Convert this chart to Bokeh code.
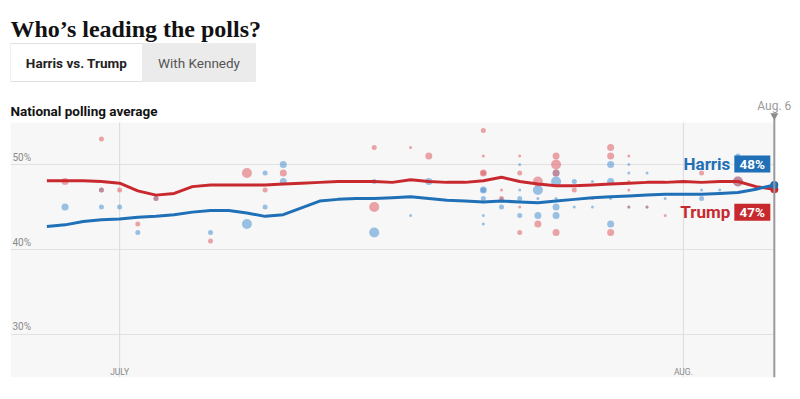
from datetime import timedelta
import pandas as pd
from bokeh.plotting import figure
from bokeh.models import Range1d
from bokeh.layouts import column
from bokeh.embed import file_html
from bokeh.resources import INLINE
from bokeh.core.properties import value

# ---------------- data ----------------
title_text = "Who\u2019s leading the polls?"
tab_labels = ["Harris vs. Trump", "With Kennedy"]
subtitle_text = "National polling average"

avg_dates = pd.date_range("2024-06-27", "2024-08-06", freq="D")
harris_avg = [42.7, 42.9, 43.3, 43.5, 43.6, 43.8, 43.9, 44.1, 44.4, 44.6,
              44.6, 44.3, 43.9, 44.1, 44.9, 45.7, 45.9, 46.0, 46.0, 46.1,
              46.2, 46.0, 45.8, 45.7, 45.6, 45.7, 45.6, 45.5, 45.7, 45.9,
              46.1, 46.2, 46.3, 46.4, 46.5, 46.5, 46.5, 46.6, 46.7, 47.1,
              47.6]
trump_avg = [48.1, 48.1, 48.1, 48.0, 47.8, 46.9, 46.4, 46.6, 47.4, 47.6,
             47.6, 47.6, 47.6, 47.7, 47.8, 47.9, 48.0, 48.0, 48.0, 47.9,
             48.2, 48.0, 47.9, 47.9, 48.1, 48.5, 48.0, 47.7, 47.5, 47.5,
             47.6, 47.7, 47.8, 47.9, 47.9, 48.0, 47.9, 48.0, 48.0, 47.4,
             47.1]

harris_poll_dates = ["06-28", "06-30", "06-30", "07-01", "07-02", "07-03", "07-06", "07-08",
                     "07-09", "07-09", "07-10", "07-10", "07-15", "07-15", "07-17", "07-18",
                     "07-21", "07-21", "07-21", "07-21", "07-21", "07-22", "07-22", "07-23",
                     "07-23", "07-23", "07-23", "07-24", "07-24", "07-24", "07-25", "07-25",
                     "07-25", "07-25", "07-25", "07-26", "07-26", "07-27", "07-27", "07-28",
                     "07-28", "07-28", "07-28", "07-29", "07-29", "07-29", "07-30", "07-30",
                     "07-31", "08-02", "08-02", "08-03", "08-04", "08-04"]
harris_poll_values = [45, 47, 45, 45, 42, 46, 42, 43,
                      49, 45, 50, 48, 48, 42, 44, 48,
                      47, 47, 46, 44, 43, 46, 45, 50,
                      47, 46, 44, 47, 46, 44, 49, 48,
                      46, 45, 44, 48, 45, 48, 45, 50,
                      48, 46, 43, 50, 49, 45, 49, 45,
                      46, 47, 46, 47, 51, 48]
harris_poll_weights = [3, 2, 2, 2, 2, 2, 2, 4,
                       2, 2, 3, 3, 2, 4, 1, 3,
                       3, 2, 2, 1, 1, 1, 2, 1,
                       1, 2, 2, 4, 1, 3, 3, 4,
                       1, 3, 3, 2, 1, 1, 1, 3,
                       3, 1, 3, 1, 1, 1, 1, 1,
                       1, 1, 2, 1, 2, 4]

trump_poll_dates = ["06-28", "06-30", "06-30", "07-01", "07-02", "07-03", "07-06", "07-08",
                    "07-09", "07-10", "07-15", "07-15", "07-17", "07-18", "07-21", "07-21",
                    "07-21", "07-21", "07-22", "07-22", "07-23", "07-23", "07-23", "07-23",
                    "07-24", "07-24", "07-25", "07-25", "07-25", "07-25", "07-26", "07-27",
                    "07-28", "07-28", "07-28", "07-29", "07-29", "07-29", "07-29", "07-30",
                    "07-31", "08-02", "08-04", "08-04"]
trump_poll_values = [48, 53, 47, 47, 43, 46, 41, 49,
                     47, 49, 52, 45, 52, 51, 54, 51,
                     49, 49, 47, 46, 51, 49, 45, 42,
                     48, 43, 51, 50, 49, 42, 47, 46,
                     52, 51, 42, 51, 48, 47, 45, 45,
                     44, 49, 48, 45]
trump_poll_weights = [3, 2, 2, 2, 2, 2, 2, 4,
                      2, 3, 2, 4, 1, 3, 2, 1,
                      3, 2, 1, 2, 1, 2, 1, 2,
                      4, 3, 3, 4, 3, 3, 2, 1,
                      3, 3, 3, 1, 1, 1, 1, 1,
                      1, 2, 4, 2]

y_ticks = [30, 40, 50]
y_tick_labels = ["30%", "40%", "50%"]
x_ticks = ["2024-07-01", "2024-08-01"]
x_tick_labels = ["JULY", "AUG."]
latest_date = "2024-08-06"
latest_label = "Aug. 6"
candidates = ["Harris", "Trump"]

# ---------------- style ----------------
HARRIS = "#1f70b6"
TRUMP = "#c8292f"
HARRIS_DOT = "#4d91d1"
TRUMP_DOT = "#df5f64"
weight_px = {1: 3, 2: 5, 3: 7, 4: 10}
W = 800
TOP_H = 94
BL, BR = 10, 8

# ---------------- header figure ----------------
top = figure(width=W, height=TOP_H, x_range=Range1d(BL, W - BR), y_range=Range1d(TOP_H, 0),
             output_backend="svg", toolbar_location=None,
             min_border_left=BL, min_border_right=BR, min_border_top=0, min_border_bottom=0,
             x_axis_location=None, y_axis_location=None)
top.outline_line_color = None
top.grid.visible = False
top.text(x=[10], y=[28], text=[title_text], text_font=value("Liberation Serif"),
         text_font_style="bold", text_font_size="24px", text_color="#121212",
         text_baseline="alphabetic", text_align="left")
top.quad(left=[10, 142], right=[142, 255], top=[43, 43], bottom=[81, 81],
         fill_color=["#ffffff", "#ebebeb"], line_color=["#e0e0e0", "#ebebeb"], line_width=1)
top.text(x=[76, 198.5], y=[62, 62], text=tab_labels, text_font=value("Roboto"),
         text_font_style=["bold", "normal"], text_font_size="13.5px",
         text_color=["#222222", "#555555"], text_align="center", text_baseline="middle")

# ---------------- main chart ----------------
x_lo = pd.Timestamp("2024-06-25")
x_hi = pd.Timestamp("2024-08-07")
y_lo, y_hi = 24.94, 58.24
plot_top = 54.94
FRAME_W, FRAME_H = W - BL - BR, 283
ppu = FRAME_H / (y_hi - y_lo)
ppd = FRAME_W / ((x_hi - x_lo).days)

p = figure(width=W, height=297, x_range=Range1d(x_lo, x_hi), y_range=Range1d(y_lo, y_hi),
           output_backend="svg", toolbar_location=None,
           min_border_left=BL, min_border_right=BR, min_border_top=0, min_border_bottom=14,
           x_axis_location=None, y_axis_location=None)
p.outline_line_color = None
p.grid.visible = False

end = pd.Timestamp(latest_date)
# plot background
p.quad(left=[x_lo], right=[end], bottom=[y_lo], top=[plot_top],
       fill_color="#f7f7f7", line_color=None)
# horizontal grid
p.segment(x0=[x_lo] * len(y_ticks), x1=[end] * len(y_ticks), y0=y_ticks, y1=y_ticks,
          line_color="#e2e2e2", line_width=1)
# vertical month lines
xt = pd.to_datetime(x_ticks)
p.segment(x0=xt, x1=xt, y0=[y_lo] * len(xt), y1=[plot_top] * len(xt),
          line_color="#dcdcdc", line_width=1)
# tick labels
p.text(x=[x_lo] * len(y_ticks), y=y_ticks, text=y_tick_labels, x_offset=2, y_offset=-2,
       text_font=value("Roboto"), text_font_size="10px", text_color="#8a8a8a",
       text_baseline="bottom", text_align="left")
p.text(x=xt, y=[y_lo] * len(xt), text=x_tick_labels, y_offset=-6,
       text_font=value("Roboto"), text_font_size="8.5px", text_color="#8a8a8a",
       text_baseline="middle", text_align="center")
# subtitle
p.text(x=[x_lo], y=[plot_top], text=[subtitle_text], y_offset=-12,
       text_font=value("Roboto"), text_font_style="bold", text_font_size="13.5px",
       text_color="#121212", text_baseline="middle", text_align="left")

# poll dots
hd = pd.to_datetime(["2024-" + d for d in harris_poll_dates])
td = pd.to_datetime(["2024-" + d for d in trump_poll_dates])
p.scatter(x=hd, y=harris_poll_values, size=[weight_px[w] for w in harris_poll_weights],
          fill_color=HARRIS_DOT, fill_alpha=0.55, line_color=None)
p.scatter(x=td, y=trump_poll_values, size=[weight_px[w] for w in trump_poll_weights],
          fill_color=TRUMP_DOT, fill_alpha=0.55, line_color=None)

# averages
p.line(avg_dates, trump_avg, line_color=TRUMP, line_width=3, line_join="round")
p.line(avg_dates, harris_avg, line_color=HARRIS, line_width=3, line_join="round")
p.scatter(x=[end, end], y=[trump_avg[-1], harris_avg[-1]], size=8,
          fill_color=[TRUMP, HARRIS], line_color=None)

# latest-date marker
p.segment(x0=[end], x1=[end], y0=[y_lo], y1=[plot_top + 4 / ppu],
          line_color="#9a9a9a", line_width=2)
p.scatter(x=[end], y=[plot_top + 7 / ppu], marker="inverted_triangle", size=8,
          fill_color="#8a8a8a", line_color=None)
p.text(x=[end], y=[plot_top + 17 / ppu], text=[latest_label], text_font=value("Roboto"),
       text_font_size="12px", text_color="#9a9a9a", text_align="center",
       text_baseline="middle")

# end labels
finals = [harris_avg[-1], trump_avg[-1]]
offsets_px = [21, -23]
colors = [HARRIS, TRUMP]
label_y = [v + o / ppu for v, o in zip(finals, offsets_px)]
box_x = end - timedelta(days=22 / ppd)
p.rect(x=[box_x, box_x], y=label_y, width=36, height=17, width_units="screen",
       height_units="screen", fill_color=colors, line_color=None)
p.text(x=[box_x, box_x], y=label_y, text=[f"{round(v)}%" for v in finals],
       text_font=value("Roboto"), text_font_style="bold", text_font_size="13.5px",
       text_color="#ffffff", text_align="center", text_baseline="middle")
p.text(x=[end, end], y=label_y, text=candidates, x_offset=-44,
       text_font=value("Roboto"), text_font_style="bold", text_font_size="17px",
       text_color=colors, text_align="right", text_baseline="middle")

layout = column(top, p, spacing=0)
open("out.html", "w").write(file_html(layout, INLINE))
